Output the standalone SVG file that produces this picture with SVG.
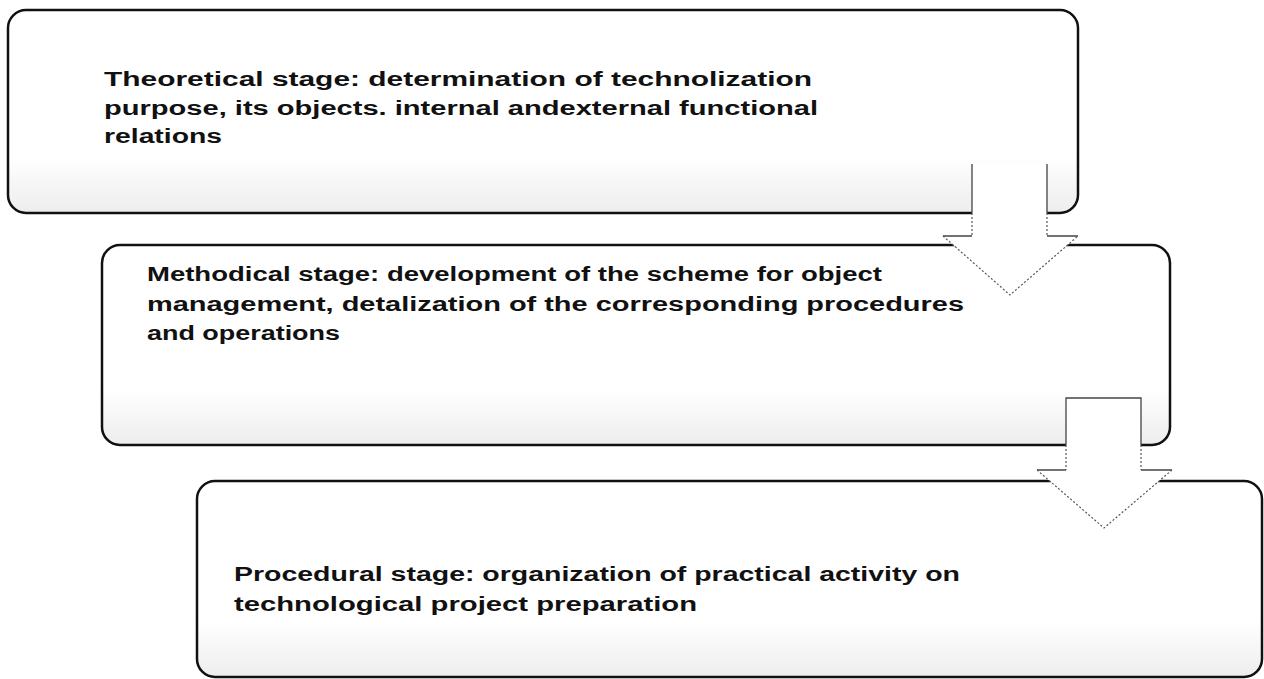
<svg xmlns="http://www.w3.org/2000/svg" width="1264" height="679" viewBox="0 0 1264 679">
<defs>
<linearGradient id="shade" x1="0" y1="0" x2="0" y2="1">
<stop offset="0" stop-color="#ffffff"/>
<stop offset="0.72" stop-color="#ffffff"/>
<stop offset="1" stop-color="#ededed"/>
</linearGradient>
<style>
.box{fill:url(#shade);stroke:#111;stroke-width:2.5}
.txt{font-family:"Liberation Sans",Arial,sans-serif;font-weight:bold;font-size:20px;fill:#111}
.shaft{fill:#fff;stroke:none}
.solid{fill:none;stroke:#444;stroke-width:1.3}
.dot{fill:none;stroke:#555;stroke-width:1.2;stroke-dasharray:2 2}
</style>
</defs>
<rect width="1264" height="679" fill="#fff"/>
<g id="node1">
<rect class="box" x="8" y="10" width="1070" height="203" rx="18" ry="18"/>
<text class="txt" x="104" y="86" textLength="708" lengthAdjust="spacingAndGlyphs">Theoretical stage: determination of technolization</text>
<text class="txt" x="104" y="115" textLength="714" lengthAdjust="spacingAndGlyphs">purpose, its objects. internal andexternal functional</text>
<text class="txt" x="104" y="143" textLength="118" lengthAdjust="spacingAndGlyphs">relations</text>
</g>
<g id="node2">
<rect class="box" x="102" y="245" width="1068" height="200" rx="18" ry="18"/>
<text class="txt" x="147" y="281" textLength="735" lengthAdjust="spacingAndGlyphs">Methodical stage: development of the scheme for object</text>
<text class="txt" x="147" y="311" textLength="817" lengthAdjust="spacingAndGlyphs">management, detalization of the corresponding procedures</text>
<text class="txt" x="147" y="340" textLength="193" lengthAdjust="spacingAndGlyphs">and operations</text>
</g>
<g id="node3">
<rect class="box" x="197" y="481" width="1065" height="196" rx="18" ry="18"/>
<text class="txt" x="234" y="581" textLength="726" lengthAdjust="spacingAndGlyphs">Procedural stage: organization of practical activity on</text>
<text class="txt" x="234" y="611" textLength="463" lengthAdjust="spacingAndGlyphs">technological project preparation</text>
</g>
<g id="connectors">
<g id="arrow1">
<polygon class="shaft" points="972,164 1047,164 1047,236 1078,236 1010,295 943,236 972,236"/>
<path class="solid" d="M972,164 V213 M1047,164 V213 M943,236 H972 M1047,236 H1078"/>
<path class="dot" d="M972,213 V236 M1047,213 V236 M943,236 L1010,295 L1078,236"/>
</g>
<g id="arrow2">
<polygon class="shaft" points="1066,398 1141,398 1141,470 1172,470 1104,528 1037,470 1066,470"/>
<path class="solid" d="M1066,445 V398 H1141 V445 M1037,470 H1066 M1141,470 H1172"/>
<path class="dot" d="M1066,445 V470 M1141,445 V470 M1037,470 L1104,528 L1172,470"/>
</g>
</g>
</svg>
